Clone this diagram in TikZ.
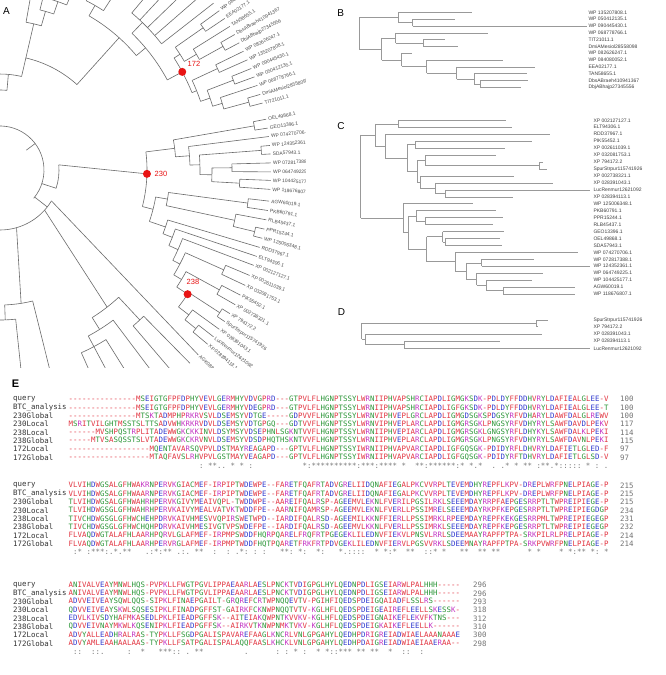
\documentclass[tikz,border=0pt]{standalone}
\usepackage{fontspec}
\setmainfont{Liberation Sans}
\newfontfamily\alnfont{DejaVu Sans Mono}
\definecolor{aared}{RGB}{226,52,64}
\definecolor{aablue}{RGB}{46,56,206}
\definecolor{aamag}{RGB}{196,54,196}
\definecolor{aagreen}{RGB}{44,150,56}
\definecolor{aagrey}{RGB}{120,120,120}
\definecolor{dotred}{RGB}{232,20,20}
\makeatletter
\def\aa@set#1#2{\@for\aa@x:=#1\do{\expandafter\def\csname aac@\aa@x\endcsname{#2}}}
\aa@set{A,V,F,P,M,I,L,W,-}{aared}
\aa@set{D,E}{aablue}
\aa@set{R,K}{aamag}
\aa@set{S,T,Y,H,C,N,G,Q}{aagreen}
\def\sq#1{\sq@loop#1\@nil}
\def\sq@loop#1{\ifx#1\@nil\else\sq@ch{#1}\expandafter\sq@loop\fi}
\def\sq@ch#1{\makebox[4.5pt][c]{\textcolor{\csname aac@#1\endcsname}{#1}}}
\def\cn#1{\cn@loop#1\@nil}
\def\cn@loop#1{\ifx#1\@nil\else\cn@ch#1\expandafter\cn@loop\fi}
\def\cn@ch#1{\makebox[4.5pt][c]{\if#1=\else#1\fi}}
\makeatother
\tikzset{
  trA/.style={draw=black!58, line width=0.6pt},
  trB/.style={draw=black!40, line width=0.5pt},
  labA/.style={font=\fontsize{4.9}{6}\selectfont, text=black!70, inner sep=0pt},
  labB/.style={font=\fontsize{5}{6}\selectfont, text=black!75, inner sep=0pt, anchor=west},
  aln/.style={font=\alnfont\fontsize{7.4}{8}\selectfont, inner sep=0pt, anchor=west},
  plab/.style={font=\fontsize{10}{12}\selectfont, inner sep=0pt},
  dlab/.style={font=\fontsize{7.5}{9}\selectfont, text=dotred, inner sep=0pt}
}
\newcommand\pArc[3]{\draw[trA] (#1:#3) arc[start angle=#1,end angle=#2,radius=#3];}
\newcommand\pRad[3]{\draw[trA] (#1:#2) -- (#1:#3);}
\newcommand\pTip[2]{\draw[trA] (#1:#2) -- (#1:271);}
\newcommand\pLeaf[3]{\draw[trA] (#1:#2) -- (#1:271); \node[labA,rotate=#1,anchor=west] at (#1:273) {#3};}
\newcommand\el[3]{\draw[trB] (#1,#3) -- (#2,#3);}
\newcommand\vl[3]{\draw[trB] (#1,#2) -- (#1,#3);}
\newcommand\alrow[5]{%
  \node[aln,text=black!80] at (13,#1) {#2};
  \node[aln] at (68.3,#1) {\sq{#3}};
  \node[aln,text=black!55] at (#5,#1) {#4};}
\newcommand\conrow[2]{\node[aln,text=aagrey] at (68.3,#1) {\cn{#2}};}
\begin{document}
\begin{tikzpicture}[x=1pt,y=-1pt]
\useasboundingbox (0,0) rectangle (666,675);
\fill[white] (0,0) rectangle (666,675);
% ================= Panel A =================
\node[plab] at (6.5,11.5) {A};
\begin{scope}
\clip (0,0) rectangle (305,367);
\begin{scope}[shift={(0pt,-170pt)}, x=1pt, y=1pt]
% root region
\pArc{100}{-40}{44}
\pRad{37}{33}{44}
\pRad{-18}{44}{59}
\pArc{5}{-18}{59}
\draw[trA] (5:59) -- (-1.5:147);
\pRad{-38}{44}{60}
\pArc{-31}{-95}{60}
\draw[trA] (-31:60) -- (-43:271);
\node[labA,rotate=-43,anchor=west] at (-43:273) {AGK08813.1};
\draw[trA] (-42:60) -- (-52:174);
\pArc{-47}{-58}{174}
\pRad{-47}{174}{205}
\pArc{-45.5}{-49.5}{205}
\pTip{-45.5}{205}\pTip{-49.5}{205}
\pRad{-58}{174}{188}
\pArc{-53}{-62}{188}
\pTip{-53}{188}
\pRad{-62}{188}{200}
\pArc{-58}{-66}{200}
\pTip{-58}{200}\pTip{-62}{200}\pTip{-66}{200}
\draw[trA] (-74:60) -- (-81:135);
\pArc{-76}{-88}{135}
\pTip{-76}{135}
\pRad{-88}{135}{150}
\pArc{-84}{-93}{150}
\pTip{-84}{150}\pTip{-93}{150}
% top-left clades
\pArc{115}{85}{80}
\pRad{85}{80}{96}
\pArc{105}{77}{96}
\pRad{77}{96}{115}
\pArc{77}{48}{115}
\pRad{77}{115}{150}
\pArc{80}{74}{150}
\pRad{80}{150}{240}
\pRad{74}{150}{165}
\pArc{76}{71}{165}
\pRad{76}{165}{240}
\pRad{71}{165}{178}
\pArc{73}{68}{178}
\pRad{73}{178}{240}
\pRad{68}{178}{240}
\pRad{48}{115}{178}
\pArc{60}{40}{178}
\pRad{60}{178}{190}
\pArc{63}{57}{190}
\pRad{63}{190}{240}
\pRad{57}{190}{240}
\pRad{40}{178}{190}
\pArc{46}{28.3}{190}
\pRad{46}{190}{205}
\pArc{50}{38}{205}
\pTip{50}{205}\pTip{47}{205}\pTip{44}{205}\pTip{41}{205}\pTip{38}{205}
% clade 172
\pRad{28.3}{190}{207}
\pArc{32.75}{21.95}{207}
\pRad{32.75}{207}{214}
\pArc{35}{30.5}{214}
\pRad{35}{214}{248}
\pArc{36}{34}{248}
\pRad{30.5}{214}{228}
\pArc{32}{29}{228}
\pRad{29}{228}{255}
\pArc{30}{28}{255}
\pRad{21.95}{207}{212}
\pArc{25}{18.9}{212}
\pRad{25}{212}{240}
\pArc{26}{24}{240}
\pRad{18.9}{212}{222}
\pArc{21.05}{16.7}{222}
\pRad{21.05}{222}{250}
\pArc{22}{20.1}{250}
\pRad{16.7}{222}{232}
\pArc{18.2}{15.25}{232}
\pRad{15.25}{232}{258}
\pArc{16.2}{14.3}{258}
\pLeaf{36}{248}{WP 084080052.1}
\pLeaf{34}{248}{EEA02177.1}
\pLeaf{32}{228}{TAN58655.1}
\pLeaf{30}{255}{DbsABraeh410941367}
\pLeaf{28}{255}{DbjABhajp27345556}
\pLeaf{26}{240}{WP 082626247.1}
\pLeaf{24}{240}{WP 135207808.1}
\pLeaf{22}{250}{WP 090445430.1}
\pLeaf{20.1}{250}{WP 050412135.1}
\pLeaf{18.2}{232}{WP 068778766.1}
\pLeaf{16.2}{258}{DmiAMesiol28558098}
\pLeaf{14.3}{258}{TIT21011.1}
% clade 230
\pArc{7.08}{-14.4}{147}
\pRad{7.08}{147}{176}
\pArc{9.85}{4.3}{176}
\pRad{9.85}{176}{258}
\pArc{10.8}{8.9}{258}
\pRad{4.3}{176}{190}
\pArc{7.1}{1.5}{190}
\pRad{1.5}{190}{200}
\pArc{4.3}{-1.3}{200}
\pRad{4.3}{200}{262}
\pArc{5.2}{3.4}{262}
\pRad{-1.3}{200}{212}
\pArc{0.55}{-3.15}{212}
\pRad{0.55}{212}{232}
\pArc{1.5}{-0.4}{232}
\pRad{-3.15}{212}{240}
\pArc{-2.2}{-4.1}{240}
\pRad{-14.4}{147}{158}
\pArc{-9.85}{-19}{158}
\pRad{-9.85}{158}{170}
\pArc{-7.6}{-12.1}{170}
\pRad{-7.6}{170}{250}
\pArc{-6.6}{-8.6}{250}
\pRad{-12.1}{170}{240}
\pArc{-10.6}{-13.6}{240}
\pRad{-13.6}{240}{262}
\pArc{-12.6}{-14.6}{262}
\pRad{-19}{158}{175}
\pArc{-16.6}{-21.35}{175}
\pRad{-21.35}{175}{185}
\pArc{-18.6}{-24.1}{185}
\pRad{-24.1}{185}{195}
\pArc{-20.6}{-27.6}{195}
\pRad{-27.6}{195}{203}
\pArc{-24.05}{-31.1}{203}
\pRad{-24.05}{203}{245}
\pArc{-22.9}{-25.2}{245}
\pRad{-31.1}{203}{212}
\pArc{-28.65}{-33.5}{212}
\pRad{-28.65}{212}{250}
\pArc{-27.5}{-29.8}{250}
\pRad{-33.5}{212}{225}
\pArc{-33}{-37.5}{225}
\pRad{-33}{225}{262}
\pArc{-32}{-34}{262}
\pRad{-37.5}{225}{238}
\pArc{-36}{-39}{238}
\pRad{-39}{238}{252}
\pArc{-38}{-40}{252}
\pLeaf{10.8}{258}{OEL49868.1}
\pLeaf{8.9}{258}{GEO13396.1}
\pLeaf{7.1}{190}{WP 074270706.1}
\pLeaf{5.2}{262}{WP 124352361.1}
\pLeaf{3.4}{262}{SDA57943.1}
\pLeaf{1.5}{232}{WP 072817388.1}
\pLeaf{-0.4}{232}{WP 064749225.1}
\pLeaf{-2.2}{240}{WP 104425177.1}
\pLeaf{-4.1}{240}{WP 118676807.1}
\pLeaf{-6.6}{250}{AGW60019.1}
\pLeaf{-8.6}{250}{PKB60791.1}
\pLeaf{-10.6}{240}{RLB45437.1}
\pLeaf{-12.6}{262}{PPR15244.1}
\pLeaf{-14.6}{262}{WP 125006348.1}
\pLeaf{-16.6}{175}{RDD37967.1}
\pLeaf{-18.6}{185}{ELT94306.1}
\pLeaf{-20.6}{195}{XP 002127127.1}
\pLeaf{-22.9}{245}{XP 002611039.1}
\pLeaf{-25.2}{245}{XP 032081753.1}
\pLeaf{-27.5}{250}{PIK55452.1}
\pLeaf{-29.8}{250}{XP 002738321.1}
\pLeaf{-32}{262}{XP 794172.2}
\pLeaf{-34}{262}{SpurStrpur115741926}
\pLeaf{-36}{238}{XP 028391043.1}
\pLeaf{-38}{252}{LucRenmur12621092}
\pLeaf{-40}{252}{XP 028394113.1}
% dots
\fill[dotred] (28.3:207) circle[radius=4];
\fill[dotred] (-1.5:147) circle[radius=4];
\fill[dotred] (-33.5:225) circle[radius=4];
\end{scope}
\end{scope}
\node[dlab] at (194,64) {172};
\node[dlab] at (161,173.5) {230};
\node[dlab] at (193,281.5) {238};
% ================= Panel B =================
\node[plab] at (340.8,13.3) {B};
\vl{359.3}{17.42}{48.86}
\el{359.3}{398.3}{17.42}\vl{398.3}{12.3}{22.53}
\el{398.3}{471.7}{12.3}
\el{398.3}{412.7}{22.53}\vl{412.7}{19.12}{25.94}
\el{412.7}{455}{19.12}\el{412.7}{586.7}{25.94}
\el{359.3}{381.7}{48.86}\vl{381.7}{37.88}{59.83}
\el{381.7}{395.7}{37.88}\vl{395.7}{32.76}{42.99}
\el{395.7}{488.3}{32.76}
\el{395.7}{423.3}{42.99}\vl{423.3}{39.58}{46.4}
\el{423.3}{445}{39.58}\el{423.3}{458.3}{46.4}
\el{381.7}{401.7}{59.83}\vl{401.7}{53.22}{66.44}
\el{401.7}{412}{53.22}
\el{401.7}{426.7}{66.44}\vl{426.7}{60.04}{72.83}
\el{426.7}{503.3}{60.04}
\el{426.7}{456.7}{72.83}\vl{456.7}{66.86}{78.8}
\el{456.7}{535}{66.86}
\el{456.7}{474}{78.8}\vl{474}{73.68}{83.91}
\el{474}{526.7}{73.68}
\el{474}{480}{83.91}\vl{480}{80.5}{87.32}
\el{480}{528.3}{80.5}\el{480}{520.7}{87.32}
\foreach \t [count=\i] in {WP 135207808.1, WP 050412135.1, WP 090445430.1, WP 068778766.1, TIT21011.1, DmiAMesiol28558098, WP 082626247.1, WP 084080052.1, EEA02177.1, TAN58655.1, DbsABraeh410941367, DbjABhajp27345556}
  {\node[labB] at (588.3,{12.3+(\i-1)*6.82}) {\t};}
% ================= Panel C =================
\node[plab] at (341,126) {C};
\vl{360.7}{134.9}{218.12}
\el{360.7}{375}{134.9}\vl{375}{123.78}{146.03}
\el{375}{398.3}{123.78}\vl{398.3}{120.3}{127.25}
\el{398.3}{506}{120.3}\el{398.3}{511.7}{127.25}
\el{375}{385}{146.03}\vl{385}{134.2}{157.87}
\el{385}{550}{134.2}
\el{385}{407.3}{157.87}\vl{407.3}{144.63}{171.12}
\el{407.3}{415}{144.63}\vl{415}{141.15}{148.1}
\el{415}{531.7}{141.15}\el{415}{505}{148.1}
\el{407.3}{417.3}{171.12}\vl{417.3}{160.26}{181.98}
\el{417.3}{425}{160.26}\vl{425}{155.05}{165.48}
\el{425}{496}{155.05}
\el{425}{539.3}{165.48}\vl{539.3}{162}{168.95}
\el{539.3}{543.3}{162}\el{539.3}{546.7}{168.95}
\el{417.3}{420}{181.98}\vl{420}{175.9}{188.06}
\el{420}{514}{175.9}
\el{420}{435}{188.06}\vl{435}{182.85}{193.28}
\el{435}{553.3}{182.85}
\el{435}{445}{193.28}\vl{445}{189.8}{196.75}
\el{445}{590}{189.8}\el{445}{512.7}{196.75}
\el{360.7}{403.3}{218.12}\vl{403.3}{203.7}{232.53}
\el{403.3}{473.3}{203.7}
\el{403.3}{408.3}{232.53}\vl{408.3}{215.86}{249.2}
\el{408.3}{416}{215.86}\vl{416}{210.65}{221.08}
\el{416}{496}{210.65}
\el{416}{425}{221.08}\vl{425}{217.6}{224.55}
\el{425}{502.7}{217.6}\el{425}{493.3}{224.55}
\el{408.3}{426.7}{249.2}\vl{426.7}{236.71}{261.69}
\el{426.7}{442.7}{236.71}\vl{442.7}{231.5}{241.93}
\el{442.7}{504}{231.5}
\el{442.7}{445}{241.93}\vl{445}{238.45}{245.4}
\el{445}{500}{238.45}\el{445}{501.7}{245.4}
\el{426.7}{455}{261.69}\vl{455}{252.35}{271.03}
\el{455}{578.3}{252.35}
\el{455}{466}{271.03}\vl{466}{262.78}{279.28}
\el{466}{481.7}{262.78}\vl{481.7}{259.3}{266.25}
\el{481.7}{534}{259.3}\el{481.7}{590}{266.25}
\el{466}{476.7}{279.28}\vl{476.7}{273.2}{285.36}
\el{476.7}{543.3}{273.2}
\el{476.7}{486}{285.36}\vl{486}{280.15}{290.58}
\el{486}{531.7}{280.15}
\el{486}{503.3}{290.58}\vl{503.3}{287.1}{294.05}
\el{503.3}{575}{287.1}\el{503.3}{575}{294.05}
\foreach \t [count=\i] in {XP 002127127.1, ELT94306.1, RDD37967.1, PIK55452.1, XP 002611039.1, XP 032081753.1, XP 794172.2, SpurStrpur115741926, XP 002738321.1, XP 028391043.1, LucRenmur12621092, XP 028394113.1, WP 125006348.1, PKB60791.1, PPR15244.1, RLB45437.1, GEO13396.1, OEL49868.1, SDA57943.1, WP 074270706.1, WP 072817388.1, WP 124352361.1, WP 064749225.1, WP 104425177.1, AGW60019.1, WP 118676807.1}
  {\node[labB] at (593.3,{120.3+(\i-1)*6.95}) {\t};}
% ================= Panel D =================
\node[plab] at (341.5,312.5) {D};
\vl{361.7}{323.35}{339.3}
\el{361.7}{536.7}{323.35}\vl{536.7}{320}{326.7}
\el{536.7}{548.3}{320}\el{536.7}{538.3}{326.7}
\el{361.7}{365}{339.3}\vl{365}{334}{344.65}
\el{365}{541.7}{334}
\el{365}{404}{344.65}\vl{404}{341}{348.3}
\el{404}{500}{341}\el{404}{590}{348.3}
\node[labB] at (593.3,320) {SpurStrpur115741926};
\node[labB] at (593.3,326.7) {XP 794172.2};
\node[labB] at (593.3,334) {XP 028391043.1};
\node[labB] at (593.3,341) {XP 028394113.1};
\node[labB] at (593.3,348.3) {LucRenmur12621092};
% ================= Panel E =================
\node[font=\bfseries\fontsize{11}{13}\selectfont, inner sep=0pt] at (15.5,384) {E};
% block 1
\alrow{399}{query}{---------------MSEIGTGFPFDPHYVEVLGERMHYVDVGPRD---GTPVLFLHGNPTSSYLWRNIIPHVAPSHRCIAPDLIGMGKSDK-PDLDYFFDDHVRYLDAFIEALGLEE-V}{100}{620}
\alrow{407.33}{BTC\_analysis}{---------------MSEIGTGFPFDPHYVEVLGERMHYVDEGPRD---GTPVLFLHGNPTSSYLWRNIIPHVAPSHRCIAPDLIGFGKSDK-PDLDYFFDDHVRYLDAFIEALGLEE-T}{100}{620}
\alrow{415.67}{230Global}{---------------MTSKTADMPHPRKRVSVLDSEMSYVDTGE-----GDPVVFLHGNPTSSYLWRNVIPHVEPLGRCLAPDLIGMGDSGKSPDGSYRFVDHARYLDAWFDALGLREWV}{100}{620}
\alrow{424}{230Local}{MSRITVILGHTMSSTSLTTSADVWHKRKRVDVLDSEMSYVDTGPGQ---GDTVVFLHGNPTSSYLWRNVIPHVEPLARCLAPDLIGMGRSGKLPNGSYRFVDHYRYLSAWFDAVDLPEKV}{117}{620}
\alrow{432.33}{238Local}{------MVSHPQSTRPLITADEWWGKCKKINVLDSYMSYVDSEPHNLSGKNTVVFLHGNPTSSYLWRNIIPHVEPIARCLAPDLIGMGRSGKLGNGSYRFLDHYKYLSAWFDALKLPEKI}{114}{620}
\alrow{440.67}{238Global}{-----MTVSASQSSTSLVTADEWWGKCKRVNVLDSEMSYVDSDPHQTHSKNTVVFLHGNPTSSYLWRNIIPHVEPLARCLAPDLIGMGRSGKLPNGSYRFVDHYRYLSAWFDAVNLPEKI}{115}{620}
\alrow{449}{172Local}{------------------MQENTAVARSQVPVLDSTMAYREAGAPD---GPTVLFLHGNPTSSYIWRNIIPHVAPVARCIAPDLIGFGQSGK-PDIDYRFLDHVRYLDAFIETLGLED-F}{97}{620}
\alrow{457.33}{172Global}{------------------MTAQFAVSLRHVPVLGSTMAYVEAGAPD---GPTVLFLHGNPTSSYIWRNIIPHVAPVARCIAPDLIGFGQSGK-PDIDYRFTDHVRYLDAFIETLGLSD-V}{97}{620}
\conrow{465.8}{=============================:=**..=*=*=:===========*:**********:***:****=*==**:******:*=*.*==.=.*=*=**=:**.*:::::=*=:=.}
% block 2
\alrow{485.5}{query}{VLVIHDWGSALGFHWAKRNPERVKGIACMEF-IRPIPTWDEWPE--FARETFQAFRTADVGRELIIDQNAFIEGALPKCVVRPLTEVEMDHYREPFLKPV-DREPLWRFPNELPIAGE-P}{215}{620}
\alrow{493.83}{BTC\_analysis}{VLVIHDWGSALGFHWAARNPERVKGIACMEF-IRPIPTWDEWPE--FARETFQAFRTADVGRELIIDQNAFIEGALPKCVVRPLTEVEMDHYREPFLKPV-DREPLWRFPNELPIAGE-P}{215}{620}
\alrow{502.17}{230Global}{TLVIHDWGSALGFHWAHRHPERVKGIVYMEAIVQPL-TWDDWPE--AAREIFQALRSP-AGEEMVLEKNLFVERILPGSILRKLSEEEMDAYRRPFAEPGESRRPTLTWPREIPIEGE-P}{215}{620}
\alrow{510.5}{230Local}{TLVIHDWGSGLGFHWAHRHPERVKAIVYMEALVATVKTWDDFPE--AARNIFQAMRSP-AGEEMVLEKNLFVERLLPSSIMRELSEEEMDAYRKPFKEPGESRRPTLTWPREIPIEGDGP}{234}{620}
\alrow{518.83}{238Local}{TIVCHDWGSGLGFHWCHEHPDRVKAIVHMESVVQPIRSWETWPD--IARDIFQALRSD-AGEEMILKKNFFIERLLPSSIMRKLRPEEMDAYREPFKEKGESRRPMLTWPREIPIEGEGP}{231}{620}
\alrow{527.17}{238Global}{TIVCHDWGSGLGFHWCHQHPDRVKAIVHMESIVGTVPSWDEFPE--IARDIFQALRSD-AGEEMVLKKNLFVERLLPSSIMRKLSEEEMDAYREPFKEPGESRRPTLTWPREIPIEGEGP}{232}{620}
\alrow{535.5}{172Local}{FLVAQDWGTALAFHLAARHPQRVLGLAFMEF-IRPMPSWDDFHQRPQARELFRQFRTPGEGEKLILEDNVFIEKVLPNSVLRRLSDEEMAAYRAPFPTPA-SRKPILRLPRELPIAGE-P}{214}{620}
\alrow{543.83}{172Global}{FLVAQDWGTALAFHLAARHPERVRGLAFMEF-IRPMPTWDDFHQTPQARETFRKFRTPDVGEKLILEDNVFIERVLPGSVVRKLSDEEMNAYRAPFPTPA-SRKPVWRFPNELPIAGE-P}{214}{620}
\conrow{552.2}{=:*=:***:.*.**===.:*:**=.:.=**==:==:=.*:=:=:===**:=*:==*:===*.::::==*=*:*==**==::*=*===**==**=**======*=*====*=*:**=*:=*}
% block 3
\alrow{585}{query}{ANIVALVEAYMNWLHQS-PVPKLLFWGTPGVLIPPAEAARLAESLPNCKTVDIGPGLHYLQEDNPDLIGSEIARWLPALHHH-----}{296}{473}
\alrow{593.33}{BTC\_analysis}{ANIVALVEAYMNWLHQS-PVPKLLFWGTPGVLIPPAEAARLAESLPNCKTVDIGPGLHYLQEDNPDLIGSEIARWLPALHHH-----}{296}{473}
\alrow{601.67}{230Global}{ADVVEIVEAYSQWLQQS-SIPKLFINAEPGAILT-GRQREFCRTWPNQQEVTV-PGIHFIQEDSPDEIGQAIADFLSSLRS------}{293}{473}
\alrow{610}{230Local}{QDVVEIVEAYSKWLSQSESIPKLFINADPGFFST-GAIRKFCKNWPNQQTVTV-KGLHFLQEDSPDEIGEAIREFLEELLSKESSK-}{318}{473}
\alrow{618.33}{238Local}{EDVLKIVSDYHAFMKASEDLPKLFIEADPGFFSK--AITEIAKQWPNTKVVKV-KGLHFLQEDSPDEIGNAIKEFLEKVFKTNS---}{312}{473}
\alrow{626.67}{238Global}{QDVVEIVNAYMKWLKQSENIPKLFIEADPGFFSK--AIRKVTKNWPNMKTVKV-KGLHFLQEDSPDEIGKAIKEFLEELLK------}{310}{473}
\alrow{635}{172Local}{ADVYALLEADHRALRAS-TYPKLLFSGDPGALISPAVAREFAAGLKNCRLVNLGPGAHYLQEDHPDRIGREIADWIAELAAANAAAE}{300}{473}
\alrow{643.33}{172Global}{ADVYAMLEAAHAALAAS-TYPKLLFSATPGALISPALAQQFAASLKHCKLVNLGPGAHYLQEDHPDAIGREIADWIAEIAAERAA--}{298}{473}
\conrow{651.8}{=::==::.=====:==*===***::=.=**=========.======:=:=*=:==*=*::***=**=**==*==::==:=}
\end{tikzpicture}
\end{document}
